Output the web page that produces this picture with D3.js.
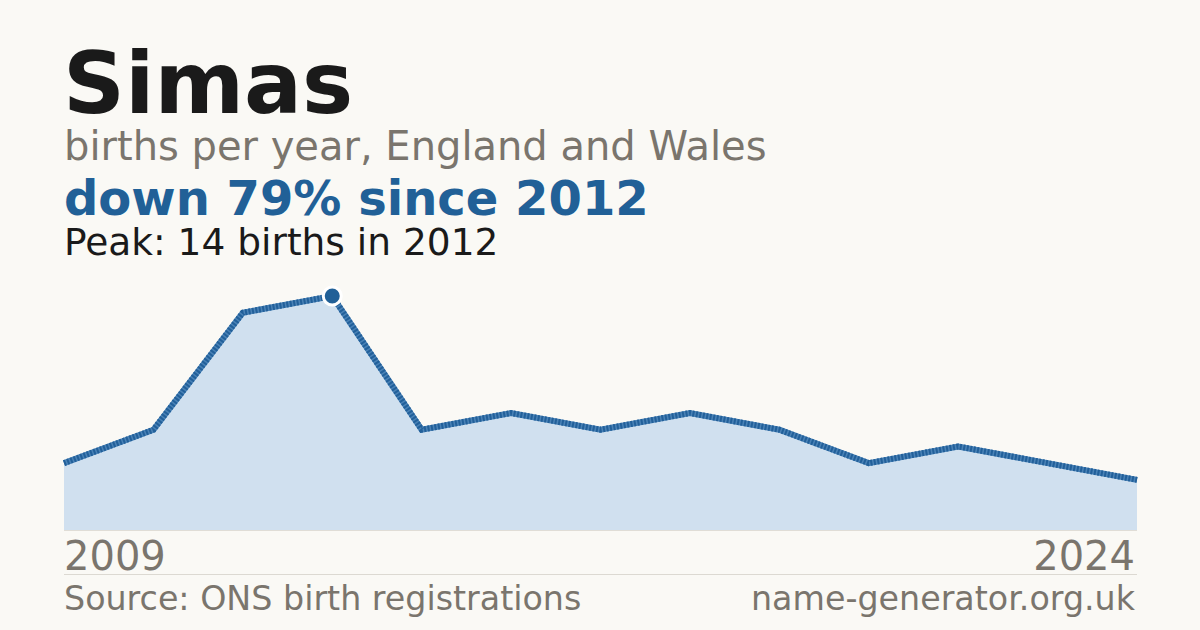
<!DOCTYPE html>
<html>
    <head>
        <meta charset="utf-8">
        <script src="https://d3js.org/d3.v7.min.js"></script>
        <style>
            body { margin: 0; background: #faf9f5; }
            svg { display: block; font-family: "DejaVu Sans", sans-serif; }
        </style>
    </head>
    <body>
        <svg width="1200" height="630"></svg>
        <script>
            // births per year (gaps in the record are skipped on the x axis)
            var years = [2009, 2010, 2011, 2012, 2013, 2014, 2015, 2016, 2017, 2018, 2019, 2021, 2024];
            var births = [4, 6, 13, 14, 6, 7, 6, 7, 6, 4, 5, 4, 3];
            var axisLabels = ['2009', '2024'];

            var root = d3.select('svg');
            var W = 1200, L = 64, R = 63;
            var T = 296, B = 530;

            root.append('rect').attr('width', W).attr('height', 630).attr('fill', '#faf9f5');

            var data = years.map(function (y, i) { return { year: y, value: births[i], i: i }; });

            var x = d3.scaleLinear()
                .domain([0, data.length - 1])
                .range([L, W - R]);

            var y = d3.scaleLinear()
                .domain([0, d3.max(births)])
                .range([B, T]);

            // titles
            root.append('text').attr('x', 63).attr('y', 113)
                .attr('font-size', 86).attr('font-weight', 'bold').attr('fill', '#1a1a1a')
                .text('Simas');
            root.append('text').attr('x', 64).attr('y', 160)
                .attr('font-size', 40).attr('fill', '#7a756d')
                .text('births per year, England and Wales');
            root.append('text').attr('x', 64).attr('y', 215)
                .attr('font-size', 48).attr('font-weight', 'bold').attr('fill', '#216097')
                .text('down 79% since 2012');
            root.append('text').attr('x', 64).attr('y', 255)
                .attr('font-size', 37.5).attr('fill', '#1a1a1a')
                .text('Peak: 14 births in 2012');

            // area + line
            var area = d3.area()
                .x(function (d) { return x(d.i); })
                .y0(B)
                .y1(function (d) { return y(d.value); });

            var line = d3.line()
                .x(function (d) { return x(d.i); })
                .y(function (d) { return y(d.value); });

            root.append('path').datum(data)
                .attr('d', area)
                .attr('fill', '#d0e0ef');

            root.append('line')
                .attr('x1', L).attr('x2', W - R)
                .attr('y1', B + 0.5).attr('y2', B + 0.5)
                .attr('stroke', '#e0ddd6').attr('stroke-width', 1);

            root.append('path').datum(data)
                .attr('d', line)
                .attr('fill', 'none')
                .attr('stroke', '#4a82b6')
                .attr('stroke-width', 6);

            root.append('path').datum(data)
                .attr('d', line)
                .attr('fill', 'none')
                .attr('stroke', '#22609a')
                .attr('stroke-width', 6)
                .attr('stroke-dasharray', '2,1.5');

            // peak marker
            var peak = data.reduce(function (a, b) { return b.value > a.value ? b : a; });
            root.append('circle')
                .attr('cx', x(peak.i)).attr('cy', y(peak.value))
                .attr('r', 9)
                .attr('fill', '#216097')
                .attr('stroke', '#fff').attr('stroke-width', 3);

            // first / last year labels
            root.append('text').attr('x', x(0)).attr('y', 570)
                .attr('font-size', 40).attr('fill', '#7a756d')
                .text(axisLabels[0]);
            root.append('text').attr('x', x(data.length - 1) - 2).attr('y', 570)
                .attr('font-size', 40).attr('fill', '#7a756d')
                .attr('text-anchor', 'end')
                .text(axisLabels[1]);

            root.append('line')
                .attr('x1', L).attr('x2', W - R)
                .attr('y1', 574.5).attr('y2', 574.5)
                .attr('stroke', '#dcd9d2').attr('stroke-width', 1);

            // footer
            root.append('text').attr('x', 64).attr('y', 610)
                .attr('font-size', 33.3).attr('fill', '#7a756d')
                .text('Source: ONS birth registrations');
            root.append('text').attr('x', 1135).attr('y', 610)
                .attr('font-size', 33.3).attr('fill', '#7a756d')
                .attr('text-anchor', 'end')
                .text('name-generator.org.uk');
        </script>
    </body>
</html>
